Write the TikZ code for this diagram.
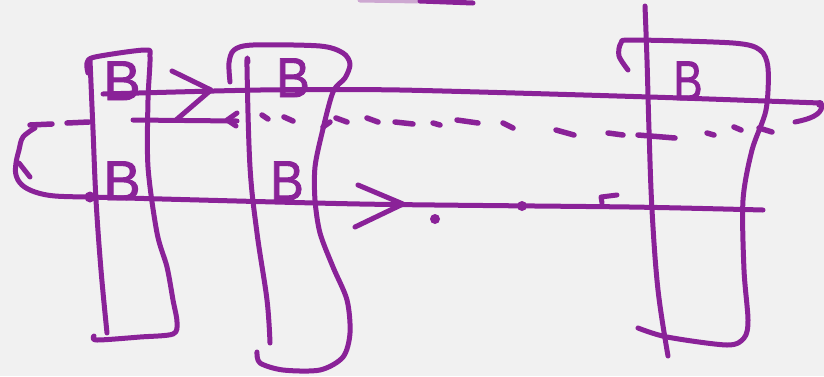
\documentclass[tikz,border=0pt]{standalone}
\usepackage{fontspec}
\setmainfont{Liberation Sans}
\newfontfamily\handletter[FakeBold=1.6]{Liberation Sans}
\definecolor{paper}{RGB}{241,241,241}
\definecolor{inkpurple}{RGB}{138,34,152}
\begin{document}
\begin{tikzpicture}[x=1pt,y=-1pt,
  ink/.style={draw=inkpurple, line width=5pt, line cap=round, line join=round},
  blob/.style={fill=inkpurple},
  letter/.style={text=inkpurple, inner sep=0pt, anchor=base,
    font=\handletter\fontsize{56}{56}\selectfont}]

% paper
\fill[paper] (0,0) rectangle (824,376);
\useasboundingbox (0,0) rectangle (824,376);

% stray stroke along the top edge
\draw[ink, draw opacity=0.35] (360,0) -- (420,1);
\draw[ink] (420,1) -- (473,3);

% ---------- first block ----------
\draw[ink] plot[smooth, tension=0.6] coordinates {(90,60) (93,130) (96,200) (101,270) (107,333)};
\draw[ink] plot[smooth, tension=0.5] coordinates {(88,73) (87,63) (95,57) (145,50) (150,57)
  (148,100) (148,167) (157,233) (167,267) (173,300) (177,322) (173,334) (140,337) (97,340) (94,336)};
\node[letter] (b1top) at (122,100) {B};
\node[letter] (b1low) at (122,200) {B};

% ---------- second block ----------
\draw[ink] plot[smooth, tension=0.6] coordinates {(248,62) (247,67) (250,167) (257,233) (267,300) (270,343)};
\draw[ink] plot[smooth, tension=0.5] coordinates {(230,82) (229,63) (234,50) (253,45) (320,46)
  (343,53) (350,64) (345,78) (333,92) (322,133) (315,167) (315,200) (320,233) (333,267)
  (347,300) (350,333) (343,357) (320,370) (283,370) (260,363) (257,352)};
\node[letter, xscale=0.9] (b2top) at (293,97) {B};
\node[letter, xscale=0.9] (b2low) at (287,200) {B};

% ---------- third block ----------
\draw[ink] plot[smooth, tension=0.6] coordinates {(645,6) (647,60) (649,130) (652,210) (658,290) (668,356)};
\draw[ink] plot[smooth, tension=0.5] coordinates {(628,70) (619,56) (621,43) (633,40) (733,43)
  (760,50) (768,68) (766,110) (752,150) (743,200) (744,270) (748,320) (744,338) (727,345)
  (667,337) (638,328)};
\node[letter, xscale=0.78] (b3top) at (688,100) {B};

% ---------- upper track ----------
\draw[ink] plot[smooth, tension=0.4] coordinates {(103,94) (260,90) (400,90) (650,97) (820,103)};
\fill[blob] (820,104) circle (4pt);
% forward arrow and the stroke folding back
\draw[ink] (172,71) -- (211,90) -- (176,120);
\draw[ink] (133,120) -- (237,121);
\draw[ink] (237,113) -- (227,120) -- (236,126);

% ---------- dashed return track ----------
\foreach \xa/\ya/\xb/\yb in {
  30/125/52/124, 67/123/89/122,
  262/115/268/119, 284/117/293/121, 323/127/330/122, 336/118/347/122,
  367/118/378/122, 395/122/413/124, 433/123/440/125, 457/120/478/123,
  503/123/513/128, 556/130/574/135, 608/133/623/135, 638/135/675/138,
  707/133/714/135, 734/127/741/130, 759/128/772/132}
  \draw[ink, line width=5.5pt] (\xa,\ya) -- (\xb,\yb);
\draw[ink] (795,122) .. controls (810,119) and (821,115) .. (822,106);

% wrap-around on the left
\draw[ink] plot[smooth, tension=0.6] coordinates {(35,128) (23,137) (19,150) (16,163)
  (16,175) (22,185) (35,192) (55,196) (90,197)};
\draw[ink] (19,163) -- (30,177);

% ---------- lower track ----------
\draw[ink] plot[smooth, tension=0.4] coordinates {(90,197) (360,204) (630,207) (763,210)};
\fill[blob] (90,197) circle (5.5pt);
\draw[ink] (358,185) -- (403,204) -- (355,227);
\fill[blob] (435,219) circle (5pt);
\fill[blob] (522,206) circle (5pt);
\draw[ink] (602,203) -- (601,197) -- (617,195);

\end{tikzpicture}
\end{document}
